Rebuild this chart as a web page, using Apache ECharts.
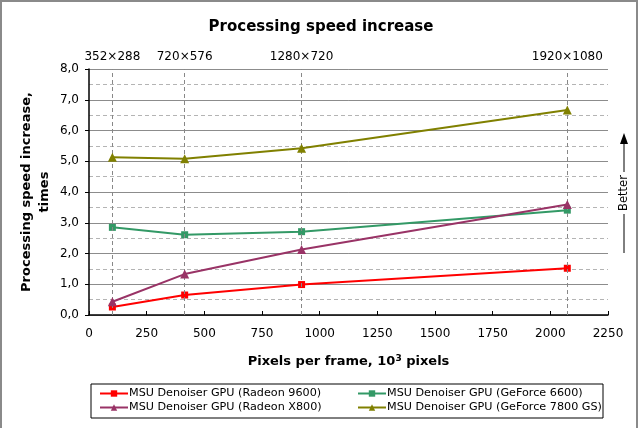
<!DOCTYPE html>
<html><head><meta charset="utf-8">
<script src="https://cdn.jsdelivr.net/npm/echarts@6/dist/echarts.min.js"></script>
<style>html,body{margin:0;padding:0;background:#fff}#c{width:642px;height:428px}</style>
</head><body><div id="c"></div>
<script>
// Pixels per frame, thousands
const resolutions = ['352×288', '720×576', '1280×720', '1920×1080'];
const pixels = [101.376, 414.72, 921.6, 2073.6];
const radeon9600 = [0.26, 0.65, 0.99, 1.52];
const geforce6600 = [2.85, 2.61, 2.71, 3.41];
const radeonX800 = [0.43, 1.33, 2.13, 3.59];
const geforce7800 = [5.13, 5.08, 5.42, 6.67];
const seriesNames = [
  'MSU Denoiser GPU (Radeon 9600)',
  'MSU Denoiser GPU (GeForce 6600)',
  'MSU Denoiser GPU (Radeon X800)',
  'MSU Denoiser GPU (GeForce 7800 GS)'
];
const seriesData = [radeon9600, geforce6600, radeonX800, geforce7800];
const colors = ['#ff0000', '#339966', '#993366', '#808000'];
const symbols = ['rect', 'rect', 'triangle', 'triangle'];

const FONT = 'DejaVu Sans';
const chart = echarts.init(document.getElementById('c'));
const series = seriesData.map((vals, i) => ({
  name: seriesNames[i],
  type: 'line',
  xAxisIndex: 0, yAxisIndex: 1,
  data: vals.map((v, j) => [pixels[j], v]),
  symbol: symbols[i],
  symbolSize: i < 2 ? 7 : 9,
  showAllSymbol: true,
  lineStyle: { color: colors[i], width: 2 },
  itemStyle: { color: colors[i] },
  z: 3 + i,
  animation: false
}));
series[0].markLine = {
  silent: true, symbol: 'none', animation: false,
  lineStyle: { color: '#888', type: [4, 3], width: 1 },
  label: { position: 'end', distance: 6, color: '#000', fontFamily: FONT, fontSize: 12, formatter: p => p.name },
  data: pixels.map((p, i) => ({ name: resolutions[i], xAxis: p }))
};

const legendBase = {
  orient: 'vertical', top: 383, itemGap: 3, itemWidth: 28, itemHeight: 8,
  textStyle: { fontFamily: FONT, fontSize: 11.2, color: '#000', padding: [0, 0, 0, -4] }
};

chart.setOption({
  animation: false,
  backgroundColor: '#fff',
  title: {
    text: 'Processing speed increase', left: 'center', top: 15,
    textStyle: { fontFamily: FONT, fontSize: 15, fontWeight: 'bold', color: '#000' }
  },
  grid: { left: 89, right: 34, top: 69, bottom: 113 },
  xAxis: [{
    type: 'value', min: 0, max: 2250, interval: 250,
    name: 'Pixels per frame, 10{sup|3} pixels', nameLocation: 'middle', nameGap: 39,
    nameTextStyle: { fontFamily: FONT, fontSize: 13, fontWeight: 'bold', color: '#000',
      rich: { sup: { fontFamily: FONT, fontSize: 9, fontWeight: 'bold', verticalAlign: 'top', padding: [0, 0, 7, 0] } } },
    axisLine: { show: true, lineStyle: { color: '#000', width: 1.5 } },
    axisTick: { show: true, inside: true, length: 4, lineStyle: { color: '#000' } },
    axisLabel: { fontFamily: FONT, fontSize: 12, color: '#000', margin: 13, formatter: v => String(v) },
    splitLine: { show: false }
  }],
  yAxis: [{
    type: 'value', min: 0, max: 8, interval: 0.5, position: 'left',
    axisLine: { show: false }, axisTick: { show: false }, axisLabel: { show: false },
    splitLine: { show: true, lineStyle: { color: '#b4b4b4', type: [4, 3], width: 1 } }
  }, {
    type: 'value', min: 0, max: 8, interval: 1, position: 'left', offset: 0,
    name: 'Processing speed increase,\ntimes', nameLocation: 'middle', nameGap: 35, nameRotate: 90,
    nameMoveOverlap: false,
    nameTextStyle: { fontFamily: FONT, fontSize: 13, fontWeight: 'bold', color: '#000', lineHeight: 18 },
    axisLine: { show: true, lineStyle: { color: '#000', width: 1.5 } },
    axisTick: { show: true, length: 4, lineStyle: { color: '#000' } },
    axisLabel: { fontFamily: FONT, fontSize: 12, color: '#000', margin: 10, formatter: v => v.toFixed(1).replace('.', ',') },
    splitLine: { show: true, lineStyle: { color: '#8c8c8c', width: 1 } }
  }],
  legend: [
    Object.assign({}, legendBase, { left: 94, data: [seriesNames[0], seriesNames[2]] }),
    Object.assign({}, legendBase, { left: 352, data: [seriesNames[1], seriesNames[3]] })
  ],
  graphic: [
    { type: 'rect', shape: { x: 1, y: 1, width: 636, height: 440 }, style: { fill: 'none', stroke: '#8a8a8a', lineWidth: 2 }, silent: true },
    { type: 'rect', shape: { x: 91, y: 384, width: 512, height: 34 }, style: { fill: 'none', stroke: '#000', lineWidth: 1 }, silent: true, z: -1 },
    { type: 'line', shape: { x1: 624, y1: 253, x2: 624, y2: 214 }, style: { stroke: '#000', lineWidth: 1 } },
    { type: 'line', shape: { x1: 624, y1: 172, x2: 624, y2: 136 }, style: { stroke: '#000', lineWidth: 1 } },
    { type: 'polygon', shape: { points: [[624, 133], [620, 144], [628, 144]] }, style: { fill: '#000' } },
    { type: 'text', x: 624, y: 193, rotation: Math.PI / 2,
      style: { text: 'Better', fontFamily: FONT, fontSize: 11.5, fill: '#000', align: 'center', verticalAlign: 'middle' } }
  ],
  series: series
});
</script></body></html>
